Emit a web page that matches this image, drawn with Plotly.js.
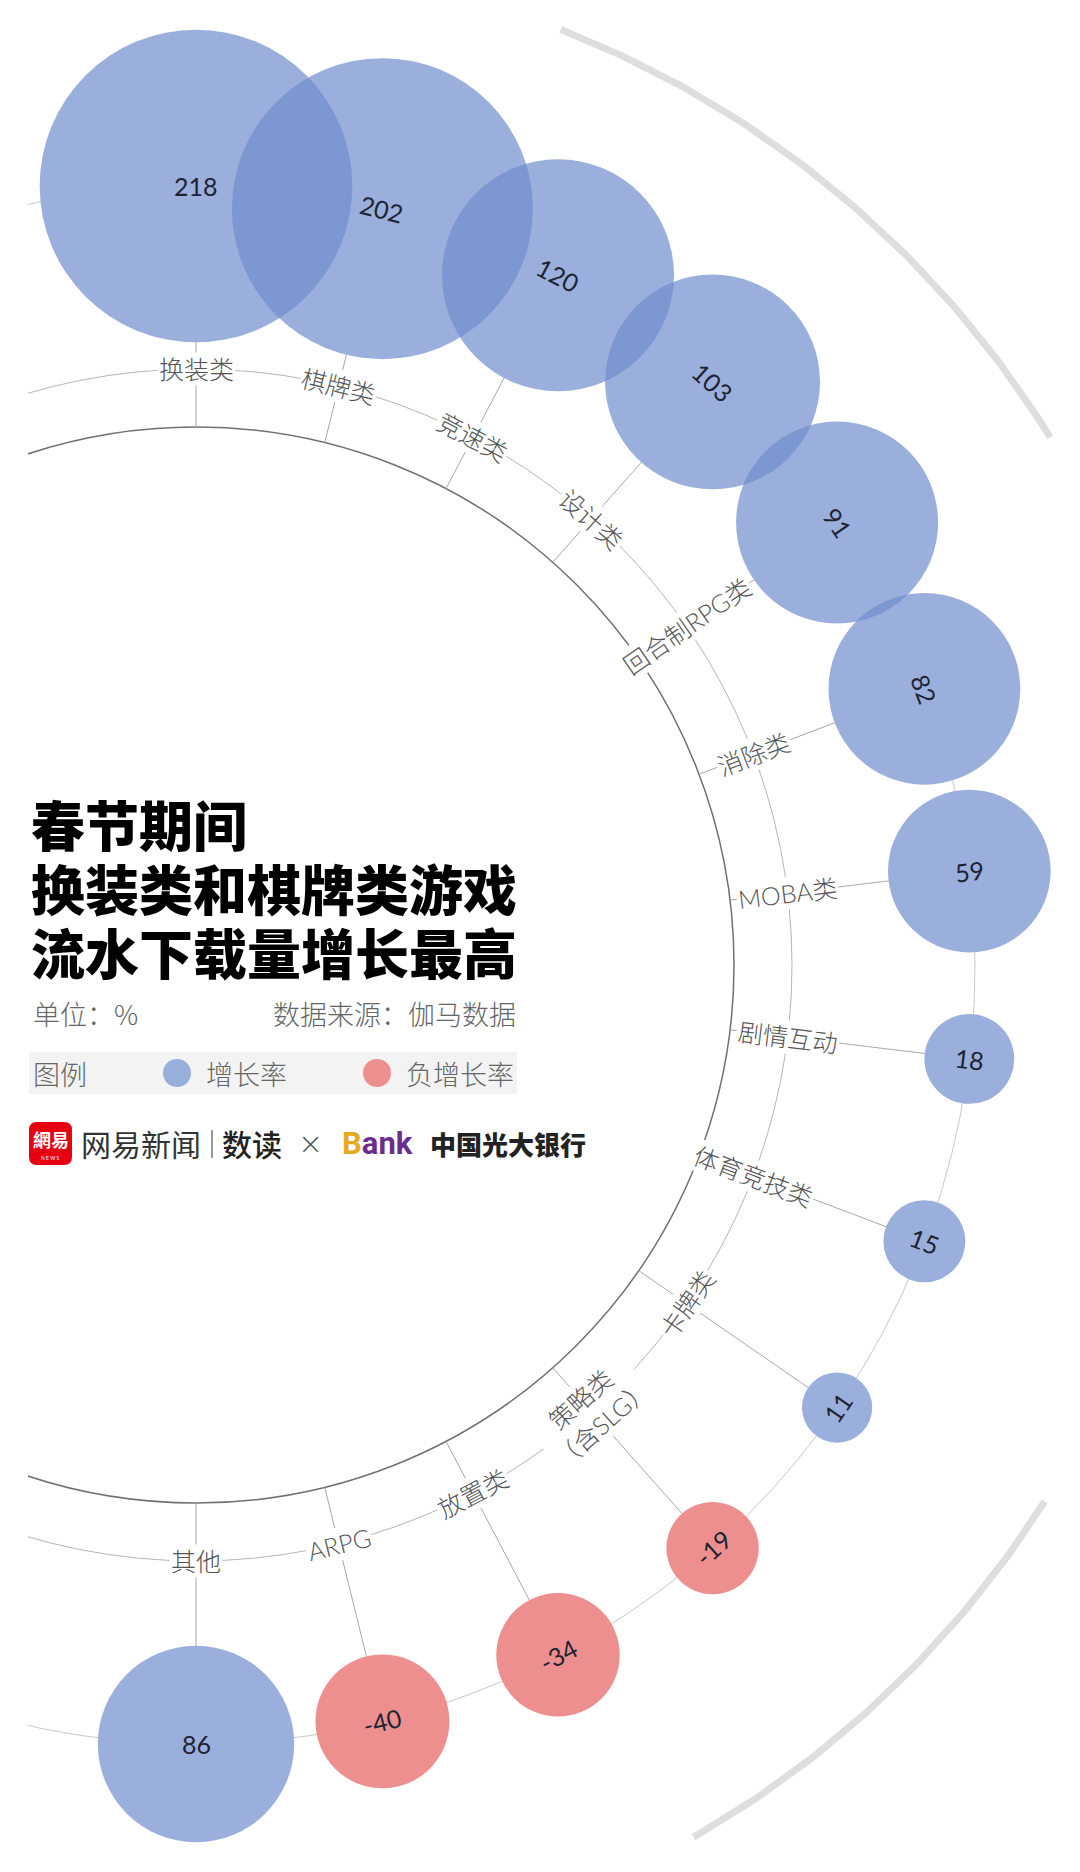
<!DOCTYPE html>
<html><head><meta charset="utf-8">
<script src="https://cdn.plot.ly/plotly-3.0.1.min.js"></script>
<style>html,body{margin:0;padding:0;background:#fff}#chart{width:1080px;height:1872px}</style>
</head><body><div id="chart"></div>
<script>
// ---- data ----
const categories = ['换装类','棋牌类','竞速类','设计类','回合制RPG类','消除类','MOBA类','剧情互动','体育竞技类','卡牌类','策略类<br>（含SLG）','放置类','ARPG','其他'];
const growth = [218,202,120,103,91,82,59,18,15,11,-19,-34,-40,86];
const titleLines = ['春节期间','换装类和棋牌类游戏','流水下载量增长最高'];
const unitText = '单位：%';
const sourceText = '数据来源：伽马数据';
const legendTitle = '图例';
const legendLabels = ['增长率','负增长率'];

// ---- geometry / style ----
const W = 1080, H = 1872, LEFT = 28;
const CX = 196, CY = 965;
const R_IN = 538, R_LAB = 596, R_BUB = 779, R_OUT = 1004;
const POS_COLOR = 'rgb(112,141,205)', NEG_COLOR = 'rgb(231,96,96)';
const POS_SOLID = '#98afdc', NEG_SOLID = '#ee8f8f';
const CJK = '"Noto Sans CJK SC", sans-serif';
const n = categories.length;
const deg = Math.PI / 180;
const theta = categories.map((c, i) => i * 180 / (n - 1));
const px = (r, t) => CX + r * Math.sin(t * deg);
const py = (r, t) => CY - r * Math.cos(t * deg);

const traces = [];
// outer thick arcs
function arc(t0, t1) {
  const xs = [], ys = [];
  for (let t = t0; t <= t1 + 1e-9; t += 0.5) { xs.push(px(R_OUT, t)); ys.push(py(R_OUT, t)); }
  return {type:'scatter', mode:'lines', x:xs, y:ys, line:{color:'#dedede', width:7}, hoverinfo:'skip'};
}
traces.push(arc(21.3, 58.4));
traces.push(arc(122.3, 150.5));

// radial lines
const lx = [], ly = [];
theta.forEach(t => { lx.push(px(R_IN, t), px(R_BUB, t), null); ly.push(py(R_IN, t), py(R_BUB, t), null); });
traces.push({type:'scatter', mode:'lines', x:lx, y:ly, line:{color:'#a8a8a8', width:1}, hoverinfo:'skip'});

const bx = theta.map(t => px(R_BUB, t));
const by = theta.map(t => py(R_BUB, t));
const sizes = growth.map(v => Math.abs(v));
const SIZEREF = 0.00446;
// white underlay hides lines beneath bubbles
traces.push({type:'scatter', mode:'markers', x:bx, y:by, marker:{size:sizes, sizemode:'area', sizeref:SIZEREF, color:'#ffffff', opacity:1, line:{width:0}}, hoverinfo:'skip', cliponaxis:false});
// bubbles
traces.push({type:'scatter', mode:'markers', x:bx, y:by,
  marker:{size:sizes, sizemode:'area', sizeref:SIZEREF, color:growth.map(v => v >= 0 ? POS_COLOR : NEG_COLOR), opacity:0.7, line:{width:0}},
  text:categories, hoverinfo:'text', cliponaxis:false});

// legend dots
traces.push({type:'scatter', mode:'markers', x:[177, 377], y:[1073, 1073],
  marker:{size:28, color:[POS_SOLID, NEG_SOLID], line:{width:0}}, hoverinfo:'skip', cliponaxis:false});

const annotations = [];
const labelFont = {family:'Lato, "Noto Sans CJK SC", sans-serif', size:25, color:'#555', weight:300};
categories.forEach((c, i) => {
  const t = theta[i];
  const ang = i <= 3 ? t : (i <= 8 ? t - 90 : t - 180);
  annotations.push({x:px(R_LAB, t), y:py(R_LAB, t), xref:'x', yref:'y', text:c, showarrow:false,
    textangle:ang, font:labelFont, bgcolor:'#ffffff', borderpad:1, xanchor:'center', yanchor:'middle'});
});
growth.forEach((v, i) => {
  const t = theta[i];
  const ang = i <= 5 ? t : (i <= 8 ? t - 90 : t - 180);
  annotations.push({x:bx[i], y:by[i], xref:'x', yref:'y', text:String(v), showarrow:false,
    textangle:ang, font:{family:'Lato, sans-serif', size:25, color:'#1d2434', weight:400}, xanchor:'center', yanchor:'middle'});
});

// title
const titleY = [823, 887, 951];
titleLines.forEach((s, i) => annotations.push({x:29, y:titleY[i], xref:'x', yref:'y', text:s, showarrow:false, height:62,
  xanchor:'left', yanchor:'middle', font:{family:CJK, size:54, color:'#000', weight:900}}));
annotations.push({x:31, y:1013, xref:'x', yref:'y', text:unitText, showarrow:false, xanchor:'left', yanchor:'middle',
  font:{family:CJK, size:27, color:'#666', weight:300}});
annotations.push({x:518, y:1013, xref:'x', yref:'y', text:sourceText, showarrow:false, xanchor:'right', yanchor:'middle',
  font:{family:CJK, size:27, color:'#666', weight:300}});
// legend
annotations.push({x:31, y:1073, xref:'x', yref:'y', text:legendTitle, showarrow:false, xanchor:'left', yanchor:'middle',
  font:{family:CJK, size:27, color:'#666', weight:300}});
annotations.push({x:204, y:1073, xref:'x', yref:'y', text:legendLabels[0], showarrow:false, xanchor:'left', yanchor:'middle',
  font:{family:CJK, size:27, color:'#666', weight:300}});
annotations.push({x:404, y:1073, xref:'x', yref:'y', text:legendLabels[1], showarrow:false, xanchor:'left', yanchor:'middle',
  font:{family:CJK, size:27, color:'#666', weight:300}});
// logos row
annotations.push({x:50.5, y:1139, xref:'x', yref:'y', text:'<b>網易</b>', showarrow:false, xanchor:'center', yanchor:'middle',
  font:{family:'"Noto Sans CJK TC", sans-serif', size:18, color:'#fff'}});
annotations.push({x:50.5, y:1158, xref:'x', yref:'y', text:'N E W S', showarrow:false, xanchor:'center', yanchor:'middle',
  font:{family:'Lato, sans-serif', size:5, color:'#fff'}});
annotations.push({x:79, y:1143, xref:'x', yref:'y', text:'网易新闻', showarrow:false, xanchor:'left', yanchor:'middle',
  font:{family:CJK, size:30, color:'#333'}});
annotations.push({x:220, y:1143, xref:'x', yref:'y', text:'数读', showarrow:false, xanchor:'left', yanchor:'middle',
  font:{family:CJK, size:30, color:'#222', weight:500}});
annotations.push({x:310, y:1143, xref:'x', yref:'y', text:'×', showarrow:false, xanchor:'center', yanchor:'middle',
  font:{family:'"DejaVu Sans", sans-serif', size:30, color:'#555', weight:300}});
annotations.push({x:340, y:1143, xref:'x', yref:'y', text:'<span style="color:#e3ab1f">B</span><span style="color:#6b2c8e">ank</span>', showarrow:false, xanchor:'left', yanchor:'middle',
  font:{family:'Roboto, sans-serif', size:31, color:'#6b2c8e', weight:700}});
annotations.push({x:428, y:1143, xref:'x', yref:'y', text:'中国光大银行', showarrow:false, xanchor:'left', yanchor:'middle',
  font:{family:CJK, size:26, color:'#222', weight:900}});

const circ = (r, color, width) => ({type:'circle', xref:'x', yref:'y', x0:CX - r, x1:CX + r, y0:CY - r, y1:CY + r,
  line:{color:color, width:width}, fillcolor:'rgba(0,0,0,0)', layer:'below'});
const shapes = [
  circ(R_IN, '#707070', 1.5),
  circ(R_LAB, '#b5b5b5', 1),
  circ(R_BUB, '#c8c8c8', 1),
  {type:'rect', xref:'x', yref:'y', x0:29, x1:517, y0:1052, y1:1094, fillcolor:'#f3f3f3', line:{width:0}, layer:'below'},
  {type:'path', xref:'x', yref:'y', path:'M 37 1122 L 64 1122 Q 72 1122 72 1130 L 72 1157 Q 72 1165 64 1165 L 37 1165 Q 29 1165 29 1157 L 29 1130 Q 29 1122 37 1122 Z',
    fillcolor:'#e60012', line:{width:0}, layer:'below'},
  {type:'line', xref:'x', yref:'y', x0:212, x1:212, y0:1130, y1:1158, line:{color:'#555', width:1.2}}
];

const layout = {
  width:W, height:H, margin:{l:LEFT, r:0, t:0, b:0},
  paper_bgcolor:'#fff', plot_bgcolor:'#fff', showlegend:false,
  xaxis:{range:[LEFT, W], visible:false, fixedrange:true},
  yaxis:{range:[H, 0], visible:false, fixedrange:true},
  shapes:shapes, annotations:annotations, hovermode:'closest'
};
Plotly.newPlot('chart', traces, layout, {displayModeBar:false, staticPlot:true});
</script></body></html>
